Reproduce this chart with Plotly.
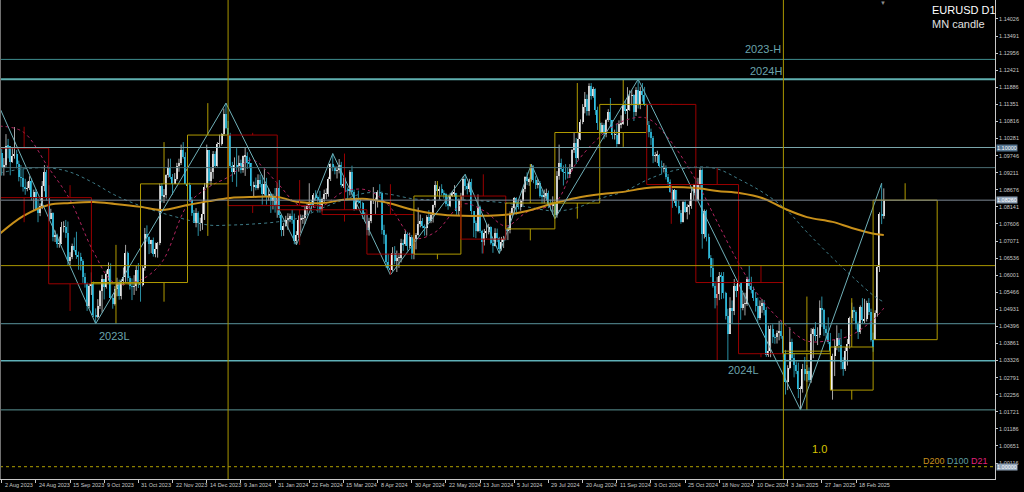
import pandas as pd
import plotly.graph_objects as go

# ---------------- calendar ----------------
holidays = ["2023-12-25", "2024-01-01", "2024-12-25", "2025-01-01"]
first_day = "2023-08-01"
last_day = "2025-03-07"

# ---------------- daily EURUSD D1 ----------------
first_open = 1.0998
gap_opens = {"2024-07-01": 1.0745, "2025-02-03": 1.0240, "2025-03-03": 1.0398}

closes = [
    # Aug 2023
    1.0983, 1.0936, 1.0946, 1.1006, 1.1004, 1.0956, 1.0972, 1.0980, 1.0947, 1.0907, 1.0905, 1.0876, 1.0872, 1.0872, 1.0895, 1.0845, 1.0861, 1.0807, 1.0796, 1.0818, 1.0879, 1.0924, 1.0843,
    # Sep 2023
    1.0775, 1.0795, 1.0721, 1.0725, 1.0698, 1.0699, 1.0752, 1.0752, 1.0731, 1.0643, 1.0657, 1.0692, 1.0678, 1.0662, 1.0658, 1.0645, 1.0593, 1.0571, 1.0503, 1.0565, 1.0573,
    # Oct 2023
    1.0476, 1.0468, 1.0504, 1.0549, 1.0588, 1.0563, 1.0605, 1.0619, 1.0530, 1.0511, 1.0558, 1.0576, 1.0534, 1.0583, 1.0594, 1.0668, 1.0590, 1.0565, 1.0564, 1.0565, 1.0615, 1.0577,
    # Nov 2023
    1.0568, 1.0622, 1.0730, 1.0719, 1.0698, 1.0709, 1.0667, 1.0683, 1.0700, 1.0879, 1.0848, 1.0852, 1.0913, 1.0938, 1.0908, 1.0887, 1.0902, 1.0942, 1.0953, 1.0993, 1.0970, 1.0886,
    # Dec 2023
    1.0882, 1.0835, 1.0795, 1.0765, 1.0795, 1.0762, 1.0763, 1.0791, 1.0875, 1.0992, 1.0896, 1.0922, 1.0981, 1.0943, 1.1011, 1.1012, 1.1043, 1.1105, 1.1061, 1.1039,
    # Jan 2024
    1.0942, 1.0922, 1.0946, 1.0941, 1.0950, 1.0931, 1.0972, 1.0974, 1.0952, 1.0950, 1.0879, 1.0883, 1.0874, 1.0897, 1.0887, 1.0855, 1.0885, 1.0844, 1.0853, 1.0831, 1.0844, 1.0818,
    # Feb 2024
    1.0873, 1.0788, 1.0742, 1.0755, 1.0772, 1.0779, 1.0784, 1.0772, 1.0708, 1.0727, 1.0773, 1.0777, 1.0779, 1.0807, 1.0818, 1.0823, 1.0821, 1.0850, 1.0844, 1.0838, 1.0805,
    # Mar 2024
    1.0838, 1.0855, 1.0855, 1.0901, 1.0948, 1.0938, 1.0927, 1.0928, 1.0946, 1.0882, 1.0886, 1.0869, 1.0865, 1.0922, 1.0860, 1.0808, 1.0838, 1.0830, 1.0827, 1.0790, 1.0790,
    # Apr 2024
    1.0742, 1.0769, 1.0836, 1.0836, 1.0837, 1.0860, 1.0858, 1.0742, 1.0727, 1.0642, 1.0624, 1.0617, 1.0671, 1.0643, 1.0655, 1.0655, 1.0702, 1.0697, 1.0730, 1.0693, 1.0719, 1.0666,
    # May 2024
    1.0712, 1.0727, 1.0761, 1.0770, 1.0753, 1.0749, 1.0782, 1.0771, 1.0790, 1.0819, 1.0883, 1.0865, 1.0869, 1.0857, 1.0854, 1.0822, 1.0818, 1.0847, 1.0857, 1.0858, 1.0800, 1.0834, 1.0848,
    # Jun 2024
    1.0902, 1.0878, 1.0870, 1.0891, 1.0801, 1.0765, 1.0740, 1.0813, 1.0739, 1.0703, 1.0733, 1.0736, 1.0750, 1.0702, 1.0693, 1.0733, 1.0715, 1.0683, 1.0703, 1.0713,
    # Jul 2024
    1.0739, 1.0742, 1.0791, 1.0810, 1.0841, 1.0826, 1.0814, 1.0831, 1.0869, 1.0908, 1.0895, 1.0901, 1.0938, 1.0899, 1.0883, 1.0890, 1.0849, 1.0846, 1.0849, 1.0857, 1.0818, 1.0816, 1.0826,
    # Aug 2024
    1.0790, 1.0911, 1.0953, 1.0932, 1.0923, 1.0921, 1.0917, 1.0932, 1.0993, 1.1013, 1.0968, 1.1027, 1.1081, 1.1128, 1.1151, 1.1115, 1.1192, 1.1162, 1.1183, 1.1119, 1.1077, 1.1047,
    # Sep 2024
    1.1072, 1.1043, 1.1087, 1.1111, 1.1085, 1.1040, 1.1040, 1.1012, 1.1073, 1.1075, 1.1132, 1.1115, 1.1118, 1.1162, 1.1163, 1.1111, 1.1180, 1.1133, 1.1177, 1.1165, 1.1135,
    # Oct 2024
    1.1069, 1.1048, 1.1031, 1.0974, 1.0974, 1.0978, 1.0942, 1.0935, 1.0936, 1.0909, 1.0892, 1.0862, 1.0832, 1.0866, 1.0818, 1.0796, 1.0766, 1.0828, 1.0797, 1.0815, 1.0817, 1.0857, 1.0884,
    # Nov 2024
    1.0834, 1.0882, 1.0931, 1.0730, 1.0801, 1.0719, 1.0655, 1.0623, 1.0565, 1.0530, 1.0542, 1.0598, 1.0597, 1.0544, 1.0472, 1.0417, 1.0496, 1.0488, 1.0566, 1.0552, 1.0577,
    # Dec 2024
    1.0498, 1.0510, 1.0511, 1.0587, 1.0567, 1.0554, 1.0528, 1.0502, 1.0467, 1.0502, 1.0514, 1.0491, 1.0351, 1.0363, 1.0430, 1.0406, 1.0405, 1.0420, 1.0426, 1.0408, 1.0354,
    # Jan 2025
    1.0265, 1.0308, 1.0390, 1.0341, 1.0320, 1.0300, 1.0244, 1.0245, 1.0306, 1.0290, 1.0301, 1.0273, 1.0417, 1.0431, 1.0410, 1.0412, 1.0497, 1.0492, 1.0431, 1.0420, 1.0390, 1.0362,
    # Feb 2025
    1.0347, 1.0379, 1.0403, 1.0381, 1.0329, 1.0307, 1.0362, 1.0383, 1.0466, 1.0492, 1.0485, 1.0446, 1.0422, 1.0499, 1.0459, 1.0462, 1.0513, 1.0485, 1.0398, 1.0375,
    # Mar 2025
    1.0481, 1.0625, 1.0792, 1.0785, 1.0835,
]

highs = [
    1.1003, 1.0996, 1.0967, 1.1042, 1.1027, 1.1000, 1.0999, 1.1064, 1.0992, 1.0959, 1.0945, 1.0935, 1.0902, 1.0893, 1.0910, 1.0903, 1.0868, 1.0870, 1.0840, 1.0825, 1.0895, 1.0945, 1.0930,
    1.0882, 1.0808, 1.0797, 1.0740, 1.0730, 1.0721, 1.0767, 1.0769, 1.0773, 1.0768, 1.0672, 1.0699, 1.0718, 1.0736, 1.0674, 1.0670, 1.0650, 1.0607, 1.0577, 1.0573, 1.0609,
    1.0580, 1.0496, 1.0525, 1.0554, 1.0601, 1.0574, 1.0615, 1.0640, 1.0637, 1.0540, 1.0566, 1.0592, 1.0586, 1.0587, 1.0624, 1.0695, 1.0674, 1.0597, 1.0590, 1.0600, 1.0630, 1.0638,
    1.0585, 1.0631, 1.0748, 1.0756, 1.0722, 1.0711, 1.0718, 1.0702, 1.0704, 1.0887, 1.0889, 1.0870, 1.0916, 1.0965, 1.0965, 1.0917, 1.0920, 1.0952, 1.0965, 1.1009, 1.1017, 1.0985,
    1.0896, 1.0890, 1.0845, 1.0804, 1.0810, 1.0800, 1.0780, 1.0828, 1.0889, 1.1009, 1.0990, 1.0935, 1.0989, 1.0988, 1.1017, 1.1040, 1.1045, 1.1122, 1.1139, 1.1083,
    1.1046, 1.0955, 1.0969, 1.0998, 1.0975, 1.0962, 1.0975, 1.0999, 1.0985, 1.0969, 1.0951, 1.0893, 1.0906, 1.0916, 1.0915, 1.0913, 1.0932, 1.0905, 1.0872, 1.0857, 1.0855, 1.0873,
    1.0889, 1.0898, 1.0786, 1.0764, 1.0786, 1.0794, 1.0793, 1.0805, 1.0793, 1.0738, 1.0787, 1.0790, 1.0789, 1.0820, 1.0826, 1.0888, 1.0835, 1.0857, 1.0866, 1.0850, 1.0864,
    1.0843, 1.0868, 1.0872, 1.0908, 1.0950, 1.0981, 1.0943, 1.0941, 1.0964, 1.0955, 1.0906, 1.0906, 1.0875, 1.0929, 1.0943, 1.0868, 1.0843, 1.0865, 1.0840, 1.0830, 1.0797,
    1.0792, 1.0780, 1.0839, 1.0876, 1.0843, 1.0866, 1.0885, 1.0862, 1.0758, 1.0730, 1.0667, 1.0633, 1.0688, 1.0691, 1.0677, 1.0669, 1.0714, 1.0712, 1.0742, 1.0734, 1.0733, 1.0726,
    1.0715, 1.0732, 1.0812, 1.0790, 1.0779, 1.0759, 1.0788, 1.0804, 1.0797, 1.0821, 1.0895, 1.0888, 1.0878, 1.0885, 1.0866, 1.0858, 1.0853, 1.0858, 1.0863, 1.0882, 1.0857, 1.0840, 1.0858,
    1.0909, 1.0916, 1.0888, 1.0902, 1.0902, 1.0790, 1.0771, 1.0853, 1.0818, 1.0742, 1.0745, 1.0762, 1.0761, 1.0753, 1.0716, 1.0747, 1.0746, 1.0720, 1.0720, 1.0723,
    1.0776, 1.0750, 1.0800, 1.0817, 1.0845, 1.0844, 1.0832, 1.0837, 1.0872, 1.0910, 1.0922, 1.0906, 1.0948, 1.0944, 1.0910, 1.0901, 1.0895, 1.0867, 1.0868, 1.0871, 1.0865, 1.0837, 1.0847,
    1.0830, 1.0926, 1.1009, 1.0965, 1.0944, 1.0948, 1.0936, 1.0948, 1.0995, 1.1047, 1.1030, 1.1048, 1.1088, 1.1136, 1.1174, 1.1166, 1.1201, 1.1202, 1.1190, 1.1185, 1.1128, 1.1082,
    1.1078, 1.1076, 1.1090, 1.1120, 1.1155, 1.1081, 1.1056, 1.1075, 1.1085, 1.1101, 1.1137, 1.1147, 1.1189, 1.1179, 1.1180, 1.1167, 1.1189, 1.1214, 1.1190, 1.1202, 1.1190,
    1.1137, 1.1083, 1.1059, 1.1036, 1.0986, 1.0990, 1.0980, 1.0959, 1.0951, 1.0944, 1.0917, 1.0900, 1.0871, 1.0870, 1.0867, 1.0834, 1.0804, 1.0832, 1.0835, 1.0822, 1.0832, 1.0870, 1.0886,
    1.0905, 1.0905, 1.0937, 1.0935, 1.0806, 1.0805, 1.0730, 1.0663, 1.0653, 1.0581, 1.0594, 1.0610, 1.0609, 1.0610, 1.0548, 1.0495, 1.0531, 1.0521, 1.0588, 1.0572, 1.0597,
    1.0548, 1.0544, 1.0545, 1.0595, 1.0630, 1.0595, 1.0564, 1.0547, 1.0530, 1.0521, 1.0525, 1.0522, 1.0500, 1.0442, 1.0443, 1.0446, 1.0415, 1.0427, 1.0457, 1.0458, 1.0412,
    1.0366, 1.0318, 1.0437, 1.0401, 1.0356, 1.0330, 1.0326, 1.0252, 1.0322, 1.0344, 1.0319, 1.0311, 1.0434, 1.0436, 1.0453, 1.0437, 1.0521, 1.0533, 1.0495, 1.0442, 1.0468, 1.0419,
    1.0354, 1.0398, 1.0443, 1.0419, 1.0431, 1.0343, 1.0375, 1.0400, 1.0470, 1.0514, 1.0501, 1.0490, 1.0455, 1.0505, 1.0528, 1.0526, 1.0520, 1.0528, 1.0495, 1.0420,
    1.0490, 1.0630, 1.0797, 1.0888, 1.0872,
]

lows = [
    1.0944, 1.0912, 1.0912, 1.0939, 1.0966, 1.0913, 1.0952, 1.0965, 1.0935, 1.0894, 1.0877, 1.0862, 1.0852, 1.0863, 1.0867, 1.0834, 1.0802, 1.0803, 1.0766, 1.0785, 1.0807, 1.0863, 1.0834,
    1.0769, 1.0775, 1.0706, 1.0704, 1.0686, 1.0686, 1.0707, 1.0734, 1.0717, 1.0631, 1.0632, 1.0650, 1.0674, 1.0651, 1.0617, 1.0615, 1.0576, 1.0561, 1.0488, 1.0496, 1.0538,
    1.0469, 1.0448, 1.0465, 1.0494, 1.0483, 1.0524, 1.0558, 1.0583, 1.0525, 1.0495, 1.0505, 1.0534, 1.0523, 1.0524, 1.0568, 1.0577, 1.0580, 1.0555, 1.0522, 1.0538, 1.0551, 1.0560,
    1.0517, 1.0565, 1.0614, 1.0705, 1.0666, 1.0669, 1.0658, 1.0656, 1.0655, 1.0694, 1.0828, 1.0826, 1.0840, 1.0905, 1.0901, 1.0852, 1.0886, 1.0896, 1.0924, 1.0945, 1.0965, 1.0885,
    1.0828, 1.0830, 1.0786, 1.0764, 1.0750, 1.0723, 1.0738, 1.0742, 1.0773, 1.0873, 1.0888, 1.0880, 1.0902, 1.0937, 1.0940, 1.1000, 1.1006, 1.1036, 1.1057, 1.1035,
    1.0939, 1.0892, 1.0916, 1.0877, 1.0924, 1.0919, 1.0921, 1.0911, 1.0933, 1.0935, 1.0863, 1.0844, 1.0866, 1.0868, 1.0875, 1.0821, 1.0849, 1.0821, 1.0834, 1.0795, 1.0806, 1.0796,
    1.0780, 1.0779, 1.0722, 1.0723, 1.0752, 1.0742, 1.0766, 1.0761, 1.0697, 1.0695, 1.0717, 1.0733, 1.0761, 1.0760, 1.0791, 1.0808, 1.0797, 1.0811, 1.0832, 1.0796, 1.0796,
    1.0800, 1.0828, 1.0838, 1.0846, 1.0895, 1.0926, 1.0916, 1.0903, 1.0919, 1.0875, 1.0873, 1.0860, 1.0836, 1.0850, 1.0850, 1.0802, 1.0804, 1.0824, 1.0809, 1.0776, 1.0768,
    1.0725, 1.0724, 1.0763, 1.0823, 1.0792, 1.0812, 1.0847, 1.0728, 1.0698, 1.0623, 1.0621, 1.0601, 1.0612, 1.0634, 1.0610, 1.0623, 1.0640, 1.0676, 1.0692, 1.0677, 1.0684, 1.0650,
    1.0650, 1.0681, 1.0724, 1.0750, 1.0747, 1.0724, 1.0724, 1.0764, 1.0763, 1.0765, 1.0812, 1.0850, 1.0837, 1.0850, 1.0840, 1.0815, 1.0805, 1.0813, 1.0845, 1.0846, 1.0789, 1.0788, 1.0812,
    1.0835, 1.0866, 1.0853, 1.0860, 1.0790, 1.0719, 1.0716, 1.0735, 1.0732, 1.0668, 1.0693, 1.0716, 1.0728, 1.0696, 1.0670, 1.0690, 1.0704, 1.0668, 1.0677, 1.0685,
    1.0709, 1.0710, 1.0731, 1.0785, 1.0796, 1.0790, 1.0806, 1.0802, 1.0818, 1.0860, 1.0882, 1.0880, 1.0893, 1.0888, 1.0870, 1.0872, 1.0843, 1.0825, 1.0825, 1.0840, 1.0810, 1.0802, 1.0789,
    1.0777, 1.0780, 1.0899, 1.0925, 1.0881, 1.0899, 1.0903, 1.0905, 1.0928, 1.0983, 1.0948, 1.0962, 1.1023, 1.1073, 1.1107, 1.1100, 1.1100, 1.1150, 1.1156, 1.1102, 1.1055, 1.1040,
    1.1043, 1.1026, 1.1032, 1.1080, 1.1063, 1.1026, 1.1025, 1.1002, 1.1010, 1.1060, 1.1071, 1.1105, 1.1068, 1.1115, 1.1132, 1.1083, 1.1099, 1.1122, 1.1120, 1.1144, 1.1130,
    1.1044, 1.1032, 1.1008, 1.0951, 1.0955, 1.0951, 1.0936, 1.0916, 1.0922, 1.0900, 1.0881, 1.0858, 1.0811, 1.0826, 1.0812, 1.0791, 1.0761, 1.0765, 1.0795, 1.0775, 1.0790, 1.0808, 1.0836,
    1.0829, 1.0844, 1.0867, 1.0683, 1.0715, 1.0706, 1.0650, 1.0594, 1.0561, 1.0496, 1.0505, 1.0522, 1.0525, 1.0527, 1.0461, 1.0332, 1.0421, 1.0450, 1.0475, 1.0531, 1.0542,
    1.0460, 1.0490, 1.0474, 1.0504, 1.0556, 1.0543, 1.0519, 1.0486, 1.0450, 1.0460, 1.0482, 1.0474, 1.0344, 1.0344, 1.0343, 1.0387, 1.0385, 1.0386, 1.0396, 1.0401, 1.0343,
    1.0226, 1.0240, 1.0305, 1.0330, 1.0280, 1.0290, 1.0215, 1.0178, 1.0232, 1.0270, 1.0266, 1.0266, 1.0263, 1.0340, 1.0394, 1.0381, 1.0404, 1.0438, 1.0410, 1.0398, 1.0384, 1.0354,
    1.0210, 1.0284, 1.0365, 1.0360, 1.0305, 1.0285, 1.0300, 1.0317, 1.0370, 1.0450, 1.0456, 1.0430, 1.0400, 1.0416, 1.0449, 1.0450, 1.0455, 1.0475, 1.0392, 1.0360,
    1.0398, 1.0470, 1.0610, 1.0760, 1.0777,
]

# ---------------- monthly candles (MN candle overlay) ----------------
mn_months = ["2023-08", "2023-09", "2023-10", "2023-11", "2023-12", "2024-01", "2024-02", "2024-03",
             "2024-04", "2024-05", "2024-06", "2024-07", "2024-08", "2024-09", "2024-10", "2024-11",
             "2024-12", "2025-01", "2025-02", "2025-03"]
mn_open = [1.0998, 1.0843, 1.0573, 1.0577, 1.0886, 1.1039, 1.0818, 1.0805, 1.0790, 1.0666, 1.0848, 1.0745,
           1.0826, 1.1047, 1.1135, 1.0884, 1.0577, 1.0354, 1.0240, 1.0398]
mn_high = [1.1065, 1.0882, 1.0695, 1.1017, 1.1139, 1.1046, 1.0898, 1.0981, 1.0885, 1.0895, 1.0916, 1.0948,
           1.1202, 1.1214, 1.1137, 1.0937, 1.0630, 1.0533, 1.0528, 1.0888]
mn_low = [1.0766, 1.0488, 1.0448, 1.0517, 1.0723, 1.0795, 1.0695, 1.0768, 1.0601, 1.0650, 1.0668, 1.0709,
          1.0777, 1.1002, 1.0761, 1.0332, 1.0343, 1.0178, 1.0210, 1.0398]
mn_close = [1.0843, 1.0573, 1.0577, 1.0886, 1.1039, 1.0818, 1.0805, 1.0790, 1.0666, 1.0848, 1.0713, 1.0826,
            1.1047, 1.1135, 1.0884, 1.0577, 1.0354, 1.0362, 1.0375, 1.0835]

# ---------------- ZigZag swing points ----------------
zz_dates = ["2023-07-18", "2023-10-03", "2023-12-28", "2024-02-14", "2024-03-08", "2024-04-16",
            "2024-06-04", "2024-06-26", "2024-07-17", "2024-08-01", "2024-09-25", "2025-01-13", "2025-03-06"]
zz_prices = [1.1276, 1.0448, 1.1139, 1.0695, 1.0981, 1.0601, 1.0916, 1.0668, 1.0948, 1.0777, 1.1214, 1.0178, 1.0888]

# ---------------- moving averages ----------------
ma_dates = ["2023-08-01", "2023-08-16", "2023-09-01", "2023-09-15", "2023-10-02", "2023-10-16", "2023-11-01",
            "2023-11-15", "2023-12-01", "2023-12-15", "2024-01-02", "2024-01-16", "2024-02-01", "2024-02-15",
            "2024-03-01", "2024-03-15", "2024-04-01", "2024-04-15", "2024-05-01", "2024-05-15", "2024-06-03",
            "2024-06-17", "2024-07-01", "2024-07-15", "2024-08-01", "2024-08-15", "2024-09-02", "2024-09-16",
            "2024-10-01", "2024-10-15", "2024-11-01", "2024-11-15", "2024-12-02", "2024-12-16", "2025-01-02",
            "2025-01-16", "2025-02-03", "2025-02-14", "2025-03-03", "2025-03-07"]
d200 = [1.0729, 1.0785, 1.0820, 1.0826, 1.0829, 1.0823, 1.0814, 1.0804, 1.0820, 1.0832, 1.0842, 1.0845, 1.0845,
        1.0829, 1.0826, 1.0836, 1.0839, 1.0826, 1.0804, 1.0792, 1.0786, 1.0786, 1.0789, 1.0801, 1.0826, 1.0842,
        1.0854, 1.0861, 1.0873, 1.0876, 1.0873, 1.0864, 1.0857, 1.0842, 1.0807, 1.0782, 1.0767, 1.0748, 1.0729, 1.0726]
d100 = [1.0920, 1.0933, 1.0936, 1.0923, 1.0889, 1.0851, 1.0817, 1.0795, 1.0773, 1.0757, 1.0757, 1.0760, 1.0767,
        1.0779, 1.0810, 1.0836, 1.0858, 1.0854, 1.0839, 1.0836, 1.0836, 1.0832, 1.0826, 1.0814, 1.0801, 1.0811,
        1.0842, 1.0861, 1.0898, 1.0923, 1.0939, 1.0933, 1.0898, 1.0861, 1.0807, 1.0735, 1.0654, 1.0597, 1.0532, 1.0516]
d21 = [1.1067, 1.1049, 1.0936, 1.0836, 1.0673, 1.0575, 1.0585, 1.0641, 1.0820, 1.0876, 1.0911, 1.0961, 1.0889,
       1.0820, 1.0817, 1.0861, 1.0867, 1.0820, 1.0716, 1.0735, 1.0823, 1.0801, 1.0754, 1.0798, 1.0826, 1.0951,
       1.1039, 1.1083, 1.1092, 1.1030, 1.0898, 1.0767, 1.0626, 1.0522, 1.0444, 1.0394, 1.0397, 1.0413, 1.0466, 1.0497]

# ---------------- horizontal levels / year separators ----------------
level_prices = [1.1276, 1.1214, 1.1000, 1.0937, 1.0835, 1.0630, 1.0448, 1.0332, 1.0178, 1.0000]
year_starts = ["2024-01-01", "2025-01-01"]

# ---------------- axis labels ----------------
x_tick_labels = ["2 Aug 2023", "24 Aug 2023", "15 Sep 2023", "9 Oct 2023", "31 Oct 2023", "22 Nov 2023",
                 "14 Dec 2023", "9 Jan 2024", "31 Jan 2024", "22 Feb 2024", "15 Mar 2024", "8 Apr 2024",
                 "30 Apr 2024", "22 May 2024", "13 Jun 2024", "5 Jul 2024", "29 Jul 2024", "20 Aug 2024",
                 "11 Sep 2024", "3 Oct 2024", "25 Oct 2024", "18 Nov 2024", "10 Dec 2024", "3 Jan 2025",
                 "27 Jan 2025", "18 Feb 2025"]
y_tick_labels = ["1.14026", "1.13491", "1.12956", "1.12421", "1.11886", "1.11351", "1.10816", "1.10281",
                 "1.09746", "1.09211", "1.08676", "1.08141", "1.07606", "1.07071", "1.06536", "1.06001",
                 "1.05466", "1.04931", "1.04396", "1.03861", "1.03326", "1.02791", "1.02256", "1.01721",
                 "1.01186", "1.00651", "1.00116"]
axis_marks = ["1.10000", "1.08260", "1.00000"]
axis_mark_levels = [1.1000, 1.0835, 1.0000]

# =====================================================================
cal = pd.bdate_range("2023-07-03", last_day)
cal = cal[~cal.isin(pd.to_datetime(holidays))]
base = cal.get_loc(pd.Timestamp(first_day))
last_idx = len(cal) - 1 - base


def bar_index(d):
    t = pd.Timestamp(d)
    if t > cal[-1]:
        return last_idx + (t - cal[-1]).days
    return int(cal.searchsorted(t, side="right")) - 1 - base


dates = cal[base:]
n = min(len(dates), len(closes), len(highs), len(lows))
if not (len(dates) == len(closes) == len(highs) == len(lows)):
    print("length mismatch", len(dates), len(closes), len(highs), len(lows))

opens = []
prev = first_open
for i in range(n):
    opens.append(gap_opens.get(dates[i].strftime("%Y-%m-%d"), prev))
    prev = closes[i]

BG = "#000000"
AXC = "#c8c8c8"
FONT = "Liberation Sans"

fig = go.Figure()

# wicks
for bull, col in [(True, "#a8a8a8"), (False, "#2a8fa3")]:
    wx, wy = [], []
    for i in range(n):
        o, c = opens[i], closes[i]
        if (c >= o) == bull:
            wx += [i, i, None]
            wy += [min(lows[i], o, c), max(highs[i], o, c), None]
    fig.add_trace(go.Scatter(x=wx, y=wy, mode="lines", line=dict(color=col, width=1),
                             hoverinfo="skip", showlegend=False))

# bodies
for bull, col in [(True, "#f2f2f2"), (False, "#2cc3ea")]:
    bx, bb, bh = [], [], []
    for i in range(n):
        o, c = opens[i], closes[i]
        if (c >= o) == bull:
            bx.append(i)
            bb.append(min(o, c))
            bh.append(max(abs(c - o), 0.00006))
    fig.add_trace(go.Bar(x=bx, y=bh, base=bb, width=0.6, marker=dict(color=col, line=dict(width=0)),
                         hoverinfo="skip", showlegend=False))

# moving averages
ma_x = [bar_index(d) for d in ma_dates]
fig.add_trace(go.Scatter(x=ma_x, y=d100, mode="lines", line=dict(color="#3f7c88", width=1, dash="dot", shape="spline"),
                         hoverinfo="skip", showlegend=False))
fig.add_trace(go.Scatter(x=ma_x, y=d21, mode="lines", line=dict(color="#b0245e", width=1, dash="dot", shape="spline"),
                         hoverinfo="skip", showlegend=False))
fig.add_trace(go.Scatter(x=ma_x, y=d200, mode="lines", line=dict(color="#c8901a", width=2, shape="spline"),
                         hoverinfo="skip", showlegend=False))

# zigzag
fig.add_trace(go.Scatter(x=[bar_index(d) for d in zz_dates], y=zz_prices, mode="lines",
                         line=dict(color="#6fb0b8", width=1), hoverinfo="skip", showlegend=False))

shapes = []
# monthly candle boxes
for k, m in enumerate(mn_months):
    start = pd.Timestamp(m + "-01")
    nxt = start + pd.offsets.MonthBegin(1)
    x0 = bar_index(start)
    x1 = bar_index(nxt)
    o, h, l, c = mn_open[k], mn_high[k], mn_low[k], mn_close[k]
    col = "#b09a00" if c >= o else "#9a0000"
    shapes.append(dict(type="rect", xref="x", yref="y", x0=x0, x1=x1, y0=o, y1=c,
                       line=dict(color=col, width=1), fillcolor="rgba(0,0,0,0)", layer="above"))
    xm = (x0 + x1) / 2
    shapes.append(dict(type="line", xref="x", yref="y", x0=xm, x1=xm, y0=max(o, c), y1=h,
                       line=dict(color=col, width=1), layer="above"))
    shapes.append(dict(type="line", xref="x", yref="y", x0=xm, x1=xm, y0=min(o, c), y1=l,
                       line=dict(color=col, width=1), layer="above"))

# horizontal levels
level_styles = [("#3f8c8e", 1, "solid"), ("#5fb0b0", 2, "solid"), ("#7aa6ac", 1, "solid"),
                ("#4a6b72", 1, "solid"), ("#7d8894", 1, "solid"), ("#a89500", 1, "solid"),
                ("#5a939c", 1, "solid"), ("#5fb0b8", 1.5, "solid"), ("#5a9496", 1, "solid"),
                ("#b0a000", 1, "dot")]
for p, (col, w, dsh) in zip(level_prices, level_styles):
    shapes.append(dict(type="line", xref="paper", yref="y", x0=0, x1=1, y0=p, y1=p,
                       line=dict(color=col, width=w, dash=dsh), layer="above"))

# year separators
for d in year_starts:
    xv = bar_index(d)
    shapes.append(dict(type="line", xref="x", yref="paper", x0=xv, x1=xv, y0=0, y1=1,
                       line=dict(color="#a89500", width=1), layer="above"))

# left window border
shapes.append(dict(type="line", xref="paper", yref="paper", x0=0, x1=0, y0=0, y1=1,
                   line=dict(color="#707070", width=2)))

W, H = 1024, 492
ML, MR, MT, MB = 0, 29, 0, 13
PW, PH = W - ML - MR, H - MT - MB

annotations = []
# x labels (MT4 style, left-aligned after tick)
x_tick_idx = [bar_index(pd.to_datetime(s)) for s in x_tick_labels]
for xv, s in zip(x_tick_idx, x_tick_labels):
    annotations.append(dict(x=xv, xref="x", y=0, yref="paper", text=s, showarrow=False,
                            xanchor="left", yanchor="middle", xshift=1, yshift=-6,
                            font=dict(family=FONT, size=5.5, color=AXC)))

# highlighted price labels on axis
mark_bg = ["#557590", "#8fa2b6", "#8fa2b6"]
for s, lv, bgc in zip(axis_marks, axis_mark_levels, mark_bg):
    annotations.append(dict(x=1, xref="paper", y=lv, yref="y", text=s, showarrow=False,
                            xanchor="left", yanchor="middle", xshift=1, bgcolor=bgc, borderpad=0,
                            font=dict(family=FONT, size=5.5, color="#ffffff")))

lab_col = "#6aa3ab"
annotations += [
    dict(x=763 / PW, xref="paper", y=level_prices[0], yref="y", yshift=10, text="2023-H", showarrow=False,
         xanchor="center", yanchor="middle", font=dict(family=FONT, size=11, color=lab_col)),
    dict(x=766 / PW, xref="paper", y=level_prices[1], yref="y", yshift=8, text="2024H", showarrow=False,
         xanchor="center", yanchor="middle", font=dict(family=FONT, size=11, color=lab_col)),
    dict(x=114 / PW, xref="paper", y=level_prices[6], yref="y", yshift=-12, text="2023L", showarrow=False,
         xanchor="center", yanchor="middle", font=dict(family=FONT, size=11, color=lab_col)),
    dict(x=743 / PW, xref="paper", y=level_prices[7], yref="y", yshift=-9, text="2024L", showarrow=False,
         xanchor="center", yanchor="middle", font=dict(family=FONT, size=11, color=lab_col)),
    dict(x=819 / PW, xref="paper", y=(PH - 449) / PH, yref="paper", text="1.0", showarrow=False,
         xanchor="center", yanchor="middle", font=dict(family=FONT, size=11, color="#d8c400")),
    dict(x=930 / PW, xref="paper", y=(PH - 10) / PH, yref="paper", text="EURUSD D1", showarrow=False,
         xanchor="left", yanchor="middle", font=dict(family=FONT, size=11, color="#ffffff")),
    dict(x=930 / PW, xref="paper", y=(PH - 24) / PH, yref="paper", text="MN candle", showarrow=False,
         xanchor="left", yanchor="middle", font=dict(family=FONT, size=11, color="#e0e0e0")),
    dict(x=990 / PW, xref="paper", y=(PH - 461) / PH, yref="paper",
         text="<span style='color:#c8901e'>D200</span> <span style='color:#5f9ea0'>D100</span> "
              "<span style='color:#e0207a'>D21</span>",
         showarrow=False, xanchor="right", yanchor="middle", font=dict(family=FONT, size=9)),
    dict(x=883 / PW, xref="paper", y=(PH - 3) / PH, yref="paper", text="▼", showarrow=False,
         xanchor="center", yanchor="middle", font=dict(family=FONT, size=6, color="#8c8c8c")),
]

x0_px = 1.7
px_per_bar = 2.1358
x_lo = 1 - x0_px / px_per_bar
x_hi = x_lo + PW / px_per_bar

fig.update_layout(
    width=W, height=H,
    margin=dict(l=ML, r=MR, t=MT, b=MB, pad=0),
    paper_bgcolor=BG, plot_bgcolor=BG,
    showlegend=False, barmode="overlay", bargap=0,
    shapes=shapes, annotations=annotations,
    font=dict(family=FONT, color=AXC),
    xaxis=dict(range=[x_lo, x_hi], showgrid=False, zeroline=False, showline=True, linecolor=AXC,
               linewidth=1, ticks="outside", ticklen=3, tickcolor=AXC, tickvals=x_tick_idx,
               showticklabels=False, fixedrange=True),
    yaxis=dict(range=[0.99615, 1.14621], side="right", showgrid=False, zeroline=False, showline=True,
               linecolor=AXC, linewidth=1, ticks="outside", ticklen=2, tickcolor=AXC,
               tickvals=[float(s) for s in y_tick_labels], ticktext=y_tick_labels,
               tickfont=dict(family=FONT, size=5.5, color=AXC), fixedrange=True),
)

fig.write_html("out.html", config={"displayModeBar": False},
               post_script="document.body.style.margin='0';document.body.style.background='#000';"
                           "document.body.style.overflow='hidden';")
